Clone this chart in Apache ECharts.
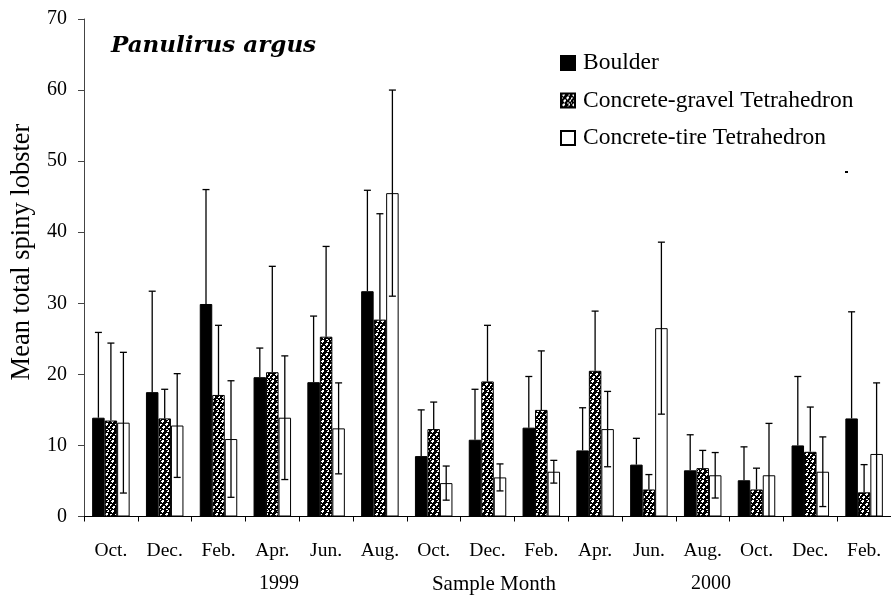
<!DOCTYPE html>
<html>
<head>
<meta charset="utf-8">
<script src="https://cdn.jsdelivr.net/npm/echarts@6/dist/echarts.min.js"></script>
<style>
html,body{margin:0;padding:0;background:#fff;}
#chart{width:891px;height:598px;}
</style>
</head>
<body>
<div id="chart"></div>
<script>
// ---- data ----
const months = ['Oct.','Dec.','Feb.','Apr.','Jun.','Aug.','Oct.','Dec.','Feb.','Apr.','Jun.','Aug.','Oct.','Dec.','Feb.'];
const yearLabels = ['1999','Sample Month','2000'];
const seriesNames = ['Boulder','Concrete-gravel Tetrahedron','Concrete-tire Tetrahedron'];
const boulder     = [13.9,17.5,29.9,19.6,18.9,31.7, 8.5,10.8,12.5, 9.3, 7.3, 6.5, 5.1,10.0,13.8];
const boulderSE   = [12.0,14.2,16.1, 4.1, 9.3,14.2, 6.5, 7.1, 7.2, 6.0, 3.7, 5.0, 4.7, 9.7,15.0];
const gravel      = [13.5,13.8,17.1,20.3,25.3,27.7,12.3,19.0,15.0,20.5, 3.8, 6.8, 3.8, 9.1, 3.4];
const gravelSE    = [10.9, 4.1, 9.8,14.9,12.7,14.9, 3.8, 7.9, 8.3, 8.4, 2.1, 2.5, 3.0, 6.3, 3.9];
const tire        = [13.2,12.8,10.9,13.9,12.4,45.5, 4.7, 5.5, 6.3,12.3,26.5, 5.8, 5.8, 6.3, 8.8];
const tireSE      = [ 9.9, 7.3, 8.2, 8.7, 6.4,14.5, 2.4, 1.9, 1.6, 5.3,12.1, 3.2, 7.3, 4.9,10.0];
const yTicks = {min:0, max:70, interval:10};

// ---- dotted pattern ----
function makePattern(){
  const c = document.createElement('canvas');
  c.width = 10; c.height = 10;
  const g = c.getContext('2d');
  g.fillStyle = '#000'; g.fillRect(0,0,10,10);
  g.fillStyle = '#fff';
  const rows = [
    '..##....#.',
    '.###...##.',
    '..#.......',
    '......##..',
    '##...###..',
    '#.....#...',
    '...##....#',
    '..###...##',
    '...#......',
    '#.....##..'
  ];
  for(let y=0;y<10;y++) for(let x=0;x<10;x++) if(rows[y][x]==='#') g.fillRect(x,y,1,1);
  return c;
}
const pattern = {image: makePattern(), repeat: 'repeat'};

const BW = 12.5;
const serif = '"Liberation Serif","Times New Roman",serif';

function errSeries(vals, ses, offset, both){
  return {
    type:'custom',
    z: 5,
    silent:true,
    data: vals.map((v,i)=>[i, v, ses[i]]),
    renderItem: function(params, api){
      const i = api.value(0), v = api.value(1), se = api.value(2);
      const cx = api.coord([i, 0])[0] + offset;
      const top = api.coord([i, v + se])[1];
      const lowVal = both ? Math.max(0, v - se) : v;
      const low = api.coord([i, lowVal])[1];
      const style = {stroke:'#000', lineWidth:1.3, fill:null};
      const cap = 3.5;
      const children = [
        {type:'line', shape:{x1:cx, y1:top, x2:cx, y2:low}, style},
        {type:'line', shape:{x1:cx-cap, y1:top, x2:cx+cap, y2:top}, style}
      ];
      if(both && v - se > 0){
        children.push({type:'line', shape:{x1:cx-cap, y1:low, x2:cx+cap, y2:low}, style});
      }
      return {type:'group', children};
    }
  };
}

const chart = echarts.init(document.getElementById('chart'), null, {renderer:'canvas'});
chart.setOption({
  animation:false,
  backgroundColor:'#fff',
  grid:{left:84, top:19, width:819, height:497.5, containLabel:false},
  legend:{
    orient:'vertical', left:560, top:51, padding:0, itemWidth:14, itemHeight:14, itemGap:13.5,
    data: seriesNames,
    textStyle:{fontFamily:serif, fontSize:23.5, color:'#000', lineHeight:22, padding:[0,0,0,3]},
    icon:'rect'
  },
  xAxis:{
    type:'category', data:months, boundaryGap:true,
    axisLine:{lineStyle:{color:'#000', width:1}},
    axisTick:{show:true, length:5, lineStyle:{color:'#000'}},
    axisLabel:{fontFamily:serif, fontSize:19.5, color:'#000', margin:24, interval:0}
  },
  yAxis:{
    type:'value', min:yTicks.min, max:yTicks.max, interval:yTicks.interval,
    splitLine:{show:false},
    axisLine:{show:true, lineStyle:{color:'#444', width:1}},
    axisTick:{show:true, length:6, lineStyle:{color:'#444'}},
    axisLabel:{fontFamily:serif, fontSize:20, color:'#000', margin:17}
  },
  series:[
    {name:seriesNames[0], type:'bar', data:boulder, barWidth:BW, barGap:'0%',
     itemStyle:{color:'#000', borderColor:'#000', borderWidth:1}},
    {name:seriesNames[1], type:'bar', data:gravel, barWidth:BW, barGap:'0%',
     itemStyle:{color:pattern, borderColor:'#000', borderWidth:1}},
    {name:seriesNames[2], type:'bar', data:tire, barWidth:BW, barGap:'0%',
     itemStyle:{color:'#fff', borderColor:'#000', borderWidth:1}},
    errSeries(boulder, boulderSE, -BW, false),
    errSeries(gravel, gravelSE, 0, false),
    errSeries(tire, tireSE, BW, true)
  ],
  graphic:[
    {type:'text', left:111, top:35, style:{text:'Panulirus argus', font:'italic bold 23px "DejaVu Serif", serif', fill:'#000'}},
    {type:'text', x:22, y:252, rotation:Math.PI/2,
     style:{text:'Mean total spiny lobster', font:'26.5px '+serif, fill:'#000', textAlign:'center', textVerticalAlign:'middle'}},
    {type:'text', x:279, y:584, style:{text:yearLabels[0], font:'20px '+serif, fill:'#000', textAlign:'center', textVerticalAlign:'middle'}},
    {type:'text', x:494, y:584, style:{text:yearLabels[1], font:'21px '+serif, fill:'#000', textAlign:'center', textVerticalAlign:'middle'}},
    {type:'text', x:711, y:584, style:{text:yearLabels[2], font:'20px '+serif, fill:'#000', textAlign:'center', textVerticalAlign:'middle'}},
    {type:'rect', shape:{x:845, y:171, width:3, height:2}, style:{fill:'#000'}}
  ]
});
</script>
</body>
</html>
